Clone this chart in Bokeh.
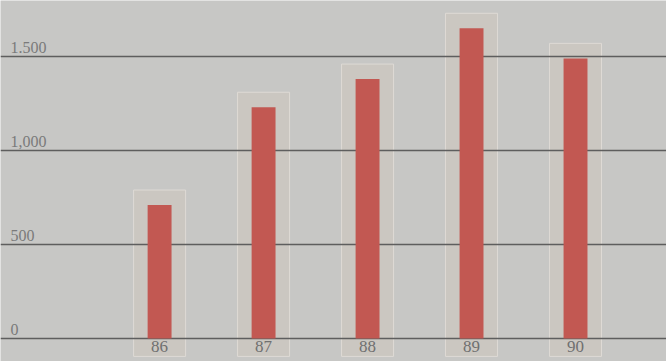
from bokeh.plotting import figure
from bokeh.models import Range1d, ColumnDataSource
from bokeh.core.properties import value
from bokeh.embed import file_html
from bokeh.resources import INLINE

years = ["86", "87", "88", "89", "90"]
values = [710, 1230, 1380, 1650, 1490]
y_ticks = [0, 500, 1000, 1500]
y_labels = ["0", "500", "1,000", "1.500"]

xpos = [86, 87, 88, 89, 90]

p = figure(width=666, height=361, output_backend="svg", toolbar_location=None,
           x_range=Range1d(84.47, 90.875), y_range=Range1d(-122, 1798),
           min_border=0, background_fill_color="#c7c7c5", border_fill_color="#c7c7c5")
p.axis.visible = False
p.grid.visible = False
p.outline_line_color = None

src = ColumnDataSource(dict(x=xpos, top=values, box_top=[v + 80 for v in values], label=years))

# light frames around each bar
p.vbar(x="x", top="box_top", bottom=-95, width=0.5, source=src,
       fill_color="#cbc7c1", line_color="#dedad5", line_width=1)

# gridlines
p.hspan(y=y_ticks, line_color="#5e5e5e", line_width=1.6)

# bars
p.vbar(x="x", top="top", bottom=0, width=0.23, source=src,
       fill_color="#c25852", line_color=None)

# y labels
p.text(x=[84.47 + 10 / 104] * len(y_ticks), y=y_ticks, text=y_labels,
       text_font=value("Liberation Serif"), text_font_size="16px", text_color="#7a7a7a",
       text_baseline="bottom", text_align="left", y_offset=-4)

# x labels
p.text(x="x", y=0, text="label", source=src,
       text_font=value("Liberation Serif"), text_font_size="17px", text_color="#707070",
       text_baseline="top", text_align="center", y_offset=2)

open("out.html", "w").write(file_html(p, INLINE))
